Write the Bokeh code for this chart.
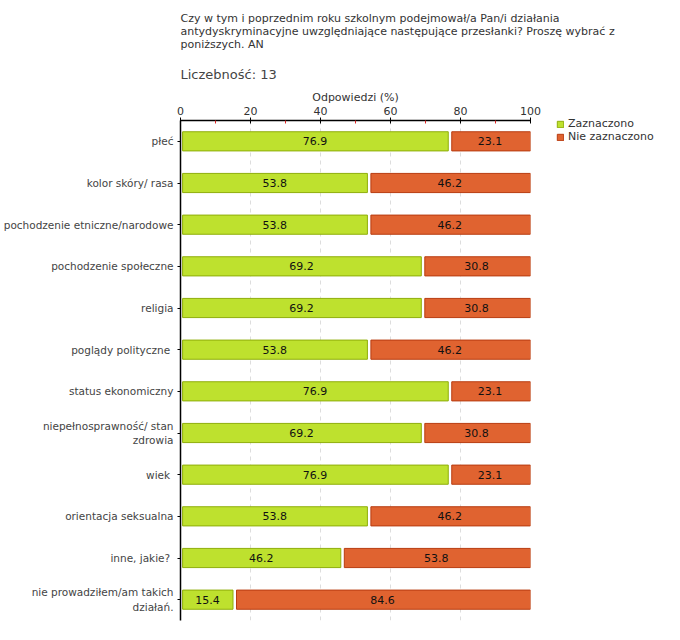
from bokeh.plotting import figure
from bokeh.models import (ColumnDataSource, FactorRange, Range1d, Title,
                          Legend, LegendItem, FixedTicker)
from bokeh.transform import dodge
from bokeh.core.properties import value
from bokeh.embed import file_html
from bokeh.resources import INLINE

categories = ["płeć", "kolor skóry/ rasa", "pochodzenie etniczne/narodowe",
              "pochodzenie społeczne", "religia", "poglądy polityczne ",
              "status ekonomiczny", "niepełnosprawność/ stan\nzdrowia", "wiek ",
              "orientacja seksualna", "inne, jakie? ",
              "nie prowadziłem/am takich\ndziałań."]
zaznaczono = [76.9, 53.8, 53.8, 69.2, 69.2, 53.8, 76.9, 69.2, 76.9, 53.8, 46.2, 15.4]
nie_zaznaczono = [23.1, 46.2, 46.2, 30.8, 30.8, 46.2, 23.1, 30.8, 23.1, 46.2, 53.8, 84.6]
x_ticks = [0, 20, 40, 60, 80, 100]
series_names = ["Zaznaczono", "Nie zaznaczono"]
question = ("Czy  w tym i poprzednim roku szkolnym podejmował/a Pan/i działania\n"
            "antydyskryminacyjne uwzględniające następujące przesłanki? Proszę wybrać z\n"
            "poniższych. AN")
count_text = "Liczebność:  13"
axis_title = "Odpowiedzi (%)"

FONT = "DejaVu Sans"
GREEN, GREEN_LINE = "#bee12e", "#8fae0a"
ORANGE, ORANGE_LINE = "#e06330", "#b83c10"

src = ColumnDataSource(dict(
    cat=categories,
    z=zaznaczono,
    n=nie_zaznaczono,
    zero=[0] * len(categories),
    total=[a + b for a, b in zip(zaznaczono, nie_zaznaczono)],
    zmid=[a / 2 for a in zaznaczono],
    nmid=[a + b / 2 for a, b in zip(zaznaczono, nie_zaznaczono)],
    zlab=["%.1f" % v for v in zaznaczono],
    nlab=["%.1f" % v for v in nie_zaznaczono],
))

p = figure(frame_width=350, frame_height=500, output_backend="svg", toolbar_location=None,
           y_range=FactorRange(factors=categories[::-1], range_padding=0),
           x_range=Range1d(0, 100), x_axis_location="above",
           min_border_left=172, min_border_right=10, min_border_bottom=4,
           min_border_top=112)
p.outline_line_color = None
p.background_fill_color = "white"
p.border_fill_color = "white"

rz = p.hbar(y="cat", left=dodge("zero", 0.6), right=dodge("z", -0.4), height=0.46,
            source=src, fill_color=GREEN, line_color=GREEN_LINE, line_width=1)
rn = p.hbar(y="cat", left=dodge("z", 0.6), right="total", height=0.46,
            source=src, fill_color=ORANGE, line_color=ORANGE_LINE, line_width=1)

p.text(x="zmid", y="cat", text="zlab", source=src, text_align="center",
       text_baseline="middle", text_font=value(FONT), text_font_size="11px",
       text_color="#111111")
p.text(x="nmid", y="cat", text="nlab", source=src, text_align="center",
       text_baseline="middle", text_font=value(FONT), text_font_size="11px",
       text_color="#111111")

# x axis (top)
xa = p.xaxis[0]
xa.ticker = FixedTicker(ticks=x_ticks, minor_ticks=list(range(10, 100, 20)))
xa.axis_label = axis_title
xa.axis_label_text_font = FONT
xa.axis_label_text_font_size = "11px"
xa.axis_label_text_font_style = "normal"
xa.axis_label_text_color = "#333333"
xa.axis_label_standoff = 0
xa.major_label_text_font = FONT
xa.major_label_text_font_size = "11px"
xa.major_label_text_color = "#333333"
xa.major_label_standoff = 3
xa.axis_line_color = "black"
xa.axis_line_width = 1.5
xa.major_tick_line_color = "black"
xa.major_tick_in = 3
xa.major_tick_out = 3
xa.minor_tick_line_color = "#dd2222"
xa.minor_tick_in = 3
xa.minor_tick_out = 0

ya = p.yaxis[0]
ya.major_label_text_font = FONT
ya.major_label_text_font_size = "10.5px"
ya.major_label_text_color = "#444444"
ya.major_label_standoff = 4
ya.axis_line_color = "black"
ya.axis_line_width = 1.5
ya.major_tick_line_color = "black"
ya.major_tick_in = 0
ya.major_tick_out = 3

p.xgrid.grid_line_color = "#dddddd"
p.xgrid.grid_line_dash = "4 4"
p.xgrid.ticker = FixedTicker(ticks=x_ticks)
p.ygrid.grid_line_color = None

# titles
t_count = Title(text=count_text, align="left", text_font=FONT, text_font_size="13px",
                text_font_style="normal", text_color="#444444", offset=0, standoff=11)
t_q = Title(text=question, align="left", text_font=FONT, text_font_size="11px",
            text_font_style="normal", text_color="#333333", offset=0, standoff=18)
p.add_layout(t_count, "above")
p.add_layout(t_q, "above")

legend = Legend(items=[LegendItem(label=series_names[0], renderers=[rz]),
                       LegendItem(label=series_names[1], renderers=[rn])],
                location=(26, 477), label_text_font=FONT, label_text_font_size="11px",
                label_text_color="#333333", glyph_width=8, glyph_height=8,
                label_height=10, spacing=0, padding=0, margin=0,
                border_line_color=None, background_fill_alpha=0, label_standoff=4)
p.add_layout(legend, "right")

open("out.html", "w").write(file_html(p, INLINE))
